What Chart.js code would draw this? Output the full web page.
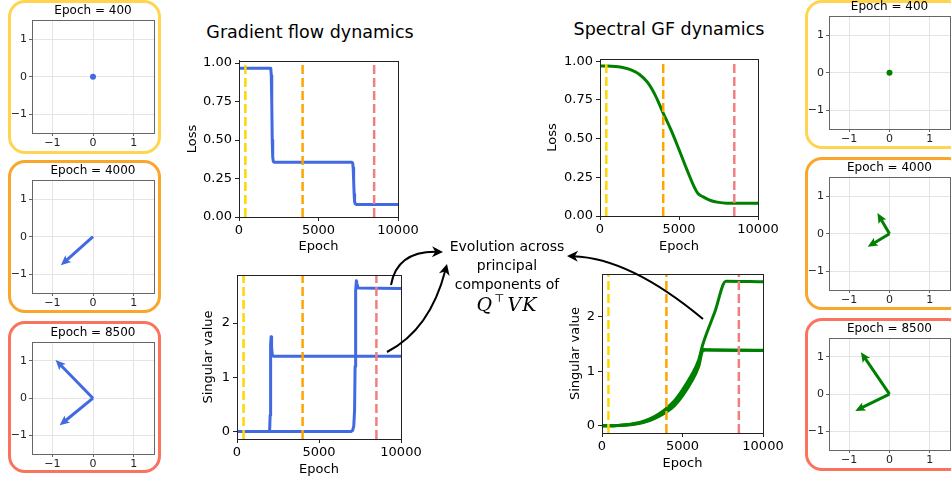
<!DOCTYPE html>
<html>
<head>
<meta charset="utf-8">
<script src="https://cdn.jsdelivr.net/npm/chart.js@4.4.1/dist/chart.umd.min.js"></script>
<style>
  html, body { margin: 0; padding: 0; background: #fff; overflow: hidden; }
  #fig { position: relative; width: 951px; height: 480px; overflow: hidden;
         font-family: "DejaVu Sans", sans-serif; color: #000; }
  .box { position: absolute; box-sizing: border-box; border: 3px solid; border-radius: 17px; }
  .holder { position: absolute; }
  .holder canvas { display: block; }
  .txt { position: absolute; white-space: nowrap; transform: translate(-50%, -50%); line-height: 1; }
  .math { font-family: "DejaVu Serif", serif; font-style: italic; font-size: 19px; letter-spacing: 1px; }
  .math sup { font-style: normal; font-size: 11px; vertical-align: 9px; margin: 0 2px 0 1px; }
  #overlay { position: absolute; left: 0; top: 0; z-index: 5; }
</style>
</head>
<body>
<div id="fig"></div>
<script>
// ---------- ticks ----------
const epochTicks = [0, 5000, 10000];
const epochTickLabels = ['0', '5000', '10000'];
const lossTicks = [0, 0.25, 0.5, 0.75, 1.0];
const lossTickLabels = ['0.00', '0.25', '0.50', '0.75', '1.00'];
const svTicks = [0, 1, 2];
const svTickLabels = ['0', '1', '2'];
const planeTicks = [-1, 0, 1];
const planeTickLabels = ['\u22121', '0', '1'];

// ---------- snapshot epochs ----------
const snapshotEpochs = [400, 4000, 8500];
const snapshotTitles = ['Epoch = 400', 'Epoch = 4000', 'Epoch = 8500'];

// ---------- gradient flow ----------
const gfLossEpoch = [0, 1950, 2000, 2030, 2060, 2090, 2120, 2160, 2220, 7100, 7150, 7180, 7210, 7240, 7270, 7310, 7380, 10000];
const gfLoss      = [0.967, 0.967, 0.964, 0.92, 0.75, 0.5, 0.39, 0.36, 0.355, 0.355, 0.35, 0.32, 0.24, 0.15, 0.1, 0.086, 0.082, 0.082];

const gfSvAEpoch = [0, 1950, 1990, 2020, 2040, 2060, 2080, 2110, 2150, 2200, 10000];
const gfSvA      = [0, 0, 0.02, 0.3, 1.0, 1.6, 1.75, 1.55, 1.42, 1.39, 1.39];
const gfSvBEpoch = [0, 6950, 7050, 7120, 7170, 7200, 7220, 7250, 7280, 7320, 7380, 10000];
const gfSvB      = [0, 0, 0.02, 0.1, 0.4, 1.2, 2.0, 2.6, 2.78, 2.72, 2.65, 2.64];

// ---------- spectral gradient flow ----------
const sgfLossEpoch = [0, 500, 1000, 1500, 2000, 2500, 3000, 3500, 4000, 4500, 5000, 5500, 6000, 6200, 6500, 7000, 7500, 8000, 10000];
const sgfLoss      = [0.97, 0.97, 0.966, 0.958, 0.943, 0.915, 0.865, 0.78, 0.665, 0.555, 0.43, 0.30, 0.18, 0.145, 0.125, 0.1, 0.088, 0.083, 0.083];

const sgfSvAEpoch = [0, 500, 1000, 1500, 2000, 2500, 3000, 3500, 4000, 4500, 5000, 5500, 6000, 6250, 6450, 10000];
const sgfSvA      = [0, 0, 0.004, 0.012, 0.028, 0.055, 0.1, 0.165, 0.25, 0.37, 0.55, 0.78, 1.08, 1.37, 1.39, 1.38];
const sgfSvCEpoch = [0, 500, 1000, 1500, 2000, 2500, 3000, 3500, 4000, 4500, 5000, 5500, 6000, 6250, 6450, 10000];
const sgfSvC      = [0, 0, 0.005, 0.015, 0.034, 0.065, 0.115, 0.19, 0.285, 0.415, 0.605, 0.84, 1.14, 1.40, 1.395, 1.385];
const sgfSvBEpoch = [0, 500, 1000, 1500, 2000, 2500, 3000, 3500, 4000, 4500, 5000, 5500, 6000, 6250, 7000, 7700, 10000];
const sgfSvB      = [0, 0, 0.006, 0.018, 0.04, 0.075, 0.13, 0.21, 0.32, 0.46, 0.66, 0.9, 1.2, 1.48, 2.08, 2.65, 2.64];

// ---------- principal components (u, v) at each snapshot ----------
const gfVec400   = [[0, 0]];
const gfVec4000  = [[-0.79, -0.76]];
const gfVec8500  = [[-0.92, 1.03], [-0.82, -0.73]];
const sgfVec400  = [[0, 0]];
const sgfVec4000 = [[-0.30, 0.55], [-0.54, -0.35]];
const sgfVec8500 = [[-0.71, 1.13], [-0.85, -0.45]];

// ---------- styling ----------
const GF_COLOR = '#4169E1';
const SGF_COLOR = '#008000';
const markerColors = ['#FFD700', '#FFA500', '#F08080'];
const boxColors = ['#FFD54F', '#F9A62A', '#FA735C'];
const FONT = '"DejaVu Sans", sans-serif';

Chart.defaults.font.family = FONT;
Chart.defaults.color = '#000';

const fig = document.getElementById('fig');

function makeCanvas(cv) {
  const holder = document.createElement('div');
  holder.className = 'holder';
  Object.assign(holder.style, { left: cv.l + 'px', top: cv.t + 'px', width: cv.w + 'px', height: cv.h + 'px' });
  const c = document.createElement('canvas');
  c.width = cv.w; c.height = cv.h;
  c.style.width = cv.w + 'px'; c.style.height = cv.h + 'px';
  holder.appendChild(c);
  fig.appendChild(holder);
  return c;
}

function addText(html, x, y, size, cls) {
  const d = document.createElement('div');
  d.className = 'txt' + (cls ? ' ' + cls : '');
  d.style.left = x + 'px'; d.style.top = y + 'px';
  if (size) d.style.fontSize = size + 'px';
  d.innerHTML = html;
  fig.appendChild(d);
}

function addBox(l, t, w, h, color) {
  const b = document.createElement('div');
  b.className = 'box';
  Object.assign(b.style, { left: l + 'px', top: t + 'px', width: w + 'px', height: h + 'px', borderColor: color });
  fig.appendChild(b);
}

// full rectangular frame round the plotting area
const framePlugin = {
  id: 'frame',
  afterDatasetsDraw(chart, args, opts) {
    const { ctx, chartArea: a } = chart;
    ctx.save();
    ctx.strokeStyle = opts.color || '#000';
    ctx.lineWidth = 1;
    ctx.strokeRect(Math.round(a.left) + 0.5, Math.round(a.top) + 0.5,
                   Math.round(a.right) - Math.round(a.left), Math.round(a.bottom) - Math.round(a.top));
    ctx.restore();
  }
};

// arrows from the origin to each (u, v), placed through the chart scales
const quiverPlugin = {
  id: 'quiver',
  afterDatasetsDraw(chart, args, opts) {
    const { ctx, scales: { x, y } } = chart;
    ctx.save();
    ctx.fillStyle = opts.color;
    (opts.vectors || []).forEach(([u, v]) => {
      const x0 = x.getPixelForValue(0), y0 = y.getPixelForValue(0);
      const x1 = x.getPixelForValue(u), y1 = y.getPixelForValue(v);
      const dx = x1 - x0, dy = y1 - y0, L = Math.hypot(dx, dy);
      if (L < 1) {
        ctx.beginPath(); ctx.arc(x0, y0, 3, 0, Math.PI * 2); ctx.fill();
        return;
      }
      const ux = dx / L, uy = dy / L, nx = -uy, ny = ux;
      const sw = 1.5, hw = 4.5, hl = 10, ha = 8.5;
      const bx = x1 - ux * ha, by = y1 - uy * ha;
      const hx = x1 - ux * hl, hy = y1 - uy * hl;
      ctx.beginPath();
      ctx.moveTo(x0 + nx * sw, y0 + ny * sw);
      ctx.lineTo(bx + nx * sw, by + ny * sw);
      ctx.lineTo(hx + nx * hw, hy + ny * hw);
      ctx.lineTo(x1, y1);
      ctx.lineTo(hx - nx * hw, hy - ny * hw);
      ctx.lineTo(bx - nx * sw, by - ny * sw);
      ctx.lineTo(x0 - nx * sw, y0 - ny * sw);
      ctx.closePath();
      ctx.fill();
    });
    ctx.restore();
  }
};

function series(xs, ys, color, smooth) {
  return { data: xs.map((x, i) => ({ x, y: ys[i] })), borderColor: color, borderWidth: 3,
           pointRadius: 0, fill: false, tension: smooth ? 0.4 : 0,
           cubicInterpolationMode: smooth ? 'monotone' : 'default',
           borderJoinStyle: 'round', borderCapStyle: 'butt' };
}

function markerLines(yMin, yMax) {
  return snapshotEpochs.map((e, i) => ({
    data: [{ x: e, y: yMin }, { x: e, y: yMax }], borderColor: markerColors[i], borderWidth: 2.5,
    borderDash: [9, 4], pointRadius: 0, fill: false
  }));
}

// line plot versus epoch
function epochChart(cv, pa, lines, yMin, yMax, yTicks, yLabels, yTitle, yTitlePos) {
  const c = makeCanvas(cv);
  const lh = 13 * 1.2;
  return new Chart(c, {
    type: 'line',
    data: { datasets: markerLines(yMin, yMax).concat(lines) },
    options: {
      responsive: false, animation: false, devicePixelRatio: 1, events: [],
      layout: { padding: { left: 0, top: pa.y0 - cv.t, right: cv.l + cv.w - pa.x1, bottom: 0 } },
      plugins: { legend: { display: false }, tooltip: { enabled: false }, frame: { color: '#222' } },
      scales: {
        x: {
          type: 'linear', min: 0, max: 10000,
          afterFit(s) { s.height = cv.t + cv.h - pa.y1; },
          afterBuildTicks(s) { s.ticks = epochTicks.map(v => ({ value: v })); },
          ticks: { autoSkip: false, maxRotation: 0, padding: 2, font: { size: 13 },
                   callback: (v, i) => epochTickLabels[i] },
          grid: { drawOnChartArea: false, tickLength: 4, tickColor: '#222' },
          border: { color: '#222' },
          title: { display: true, text: 'Epoch', font: { size: 13 }, padding: 0 }
        },
        y: {
          type: 'linear', min: yMin, max: yMax,
          afterFit(s) { s.width = pa.x0 - cv.l; },
          afterBuildTicks(s) { s.ticks = yTicks.map(v => ({ value: v })); },
          ticks: { autoSkip: false, padding: 3, font: { size: 13 }, callback: (v, i) => yLabels[i] },
          grid: { drawOnChartArea: false, tickLength: 4, tickColor: '#222' },
          border: { color: '#222' },
          title: { display: true, text: yTitle, font: { size: 13 },
                   padding: { top: yTitlePos - cv.l - lh / 2, bottom: 0 } }
        }
      }
    },
    plugins: [framePlugin]
  });
}

// principal-component plane with arrows
function planeChart(pa, vectors, color, title) {
  const b = 2, th = 12 * 1.2;
  const cv = { l: pa.x0 - 24, t: pa.y0 - th - b - 1, w: pa.x1 - pa.x0 + 28, h: pa.y1 - pa.y0 + th + b + 1 + 20 };
  const c = makeCanvas(cv);
  return new Chart(c, {
    type: 'scatter',
    data: { datasets: [{ data: [], pointRadius: 0 }] },
    options: {
      responsive: false, animation: false, devicePixelRatio: 1, events: [],
      layout: { padding: { left: 0, top: 1, right: cv.l + cv.w - pa.x1, bottom: 0 } },
      plugins: {
        legend: { display: false }, tooltip: { enabled: false },
        title: { display: true, fullSize: false, text: title, font: { size: 12, weight: 'normal' }, color: '#000',
                 padding: { top: 0, bottom: b } },
        quiver: { vectors, color },
        frame: { color: '#666' }
      },
      scales: {
        x: {
          type: 'linear', min: -1.5, max: 1.5,
          afterFit(s) { s.height = 20; },
          afterBuildTicks(s) { s.ticks = planeTicks.map(v => ({ value: v })); },
          ticks: { autoSkip: false, maxRotation: 0, padding: 1, font: { size: 11 }, color: '#222',
                   callback: (v, i) => planeTickLabels[i] },
          grid: { color: '#e4e4e4', tickLength: 3, tickColor: '#666' },
          border: { color: '#666' }
        },
        y: {
          type: 'linear', min: -1.5, max: 1.5,
          afterFit(s) { s.width = 24; },
          afterBuildTicks(s) { s.ticks = planeTicks.map(v => ({ value: v })); },
          ticks: { autoSkip: false, padding: 2, font: { size: 11 }, color: '#222',
                   callback: (v, i) => planeTickLabels[i] },
          grid: { color: '#e4e4e4', tickLength: 3, tickColor: '#666' },
          border: { color: '#666' }
        }
      }
    },
    plugins: [quiverPlugin, framePlugin]
  });
}

// ---------- snapshot frames ----------
addBox(8, 0, 153, 154, boxColors[0]);
addBox(8, 160, 153, 153, boxColors[1]);
addBox(8, 321, 153, 152, boxColors[2]);
addBox(805, 0, 160, 149, boxColors[0]);
addBox(805, 157, 160, 153, boxColors[1]);
addBox(805, 318, 160, 153, boxColors[2]);

// ---------- left column: gradient flow components ----------
planeChart({ x0: 32, y0: 20, x1: 154, y1: 133 }, gfVec400, GF_COLOR, snapshotTitles[0]);
planeChart({ x0: 32, y0: 180, x1: 154, y1: 293 }, gfVec4000, GF_COLOR, snapshotTitles[1]);
planeChart({ x0: 32, y0: 342, x1: 154, y1: 454 }, gfVec8500, GF_COLOR, snapshotTitles[2]);

// ---------- right column: spectral GF components ----------
planeChart({ x0: 829, y0: 16, x1: 950, y1: 129 }, sgfVec400, SGF_COLOR, snapshotTitles[0]);
planeChart({ x0: 829, y0: 177, x1: 950, y1: 290 }, sgfVec4000, SGF_COLOR, snapshotTitles[1]);
planeChart({ x0: 829, y0: 338, x1: 950, y1: 450 }, sgfVec8500, SGF_COLOR, snapshotTitles[2]);

// ---------- gradient flow dynamics ----------
epochChart({ l: 180, t: 50, w: 242, h: 204 }, { x0: 239, y0: 60, x1: 398, y1: 217 },
  [series(gfLossEpoch, gfLoss, GF_COLOR)], 0, 1.015, lossTicks, lossTickLabels, 'Loss', 193);
epochChart({ l: 180, t: 262, w: 245, h: 215 }, { x0: 237, y0: 275, x1: 401, y1: 439 },
  [series(gfSvAEpoch, gfSvA, GF_COLOR), series(gfSvBEpoch, gfSvB, GF_COLOR)],
  -0.1375, 2.8875, svTicks, svTickLabels, 'Singular value', 209);

// ---------- spectral GF dynamics ----------
epochChart({ l: 540, t: 48, w: 242, h: 206 }, { x0: 600, y0: 59, x1: 758, y1: 216 },
  [series(sgfLossEpoch, sgfLoss, SGF_COLOR, true)], 0, 1.015, lossTicks, lossTickLabels, 'Loss', 553);
epochChart({ l: 560, t: 262, w: 227, h: 209 }, { x0: 602, y0: 274, x1: 763, y1: 433 },
  [series(sgfSvAEpoch, sgfSvA, SGF_COLOR, true), series(sgfSvCEpoch, sgfSvC, SGF_COLOR, true),
   series(sgfSvBEpoch, sgfSvB, SGF_COLOR, true)],
  -0.1325, 2.7825, svTicks, svTickLabels, 'Singular value', 576);

// ---------- headings and caption ----------
addText('Gradient flow dynamics', 310, 33, 17.5);
addText('Spectral GF dynamics', 669, 30, 17.5);
addText('Evolution across', 507, 246, 14);
addText('principal', 507, 265, 14);
addText('components of', 507, 284, 14);
addText('Q<sup>\u22A4</sup>VK', 507, 303, null, 'math');

// ---------- curved pointers towards the caption ----------
const ov = document.createElement('canvas');
ov.id = 'overlay'; ov.width = 951; ov.height = 480;
fig.appendChild(ov);
const g = ov.getContext('2d');

function curvedArrow(p0, c, p1) {
  g.save();
  g.strokeStyle = '#000'; g.fillStyle = '#000'; g.lineWidth = 2;
  const ang = Math.atan2(p1[1] - c[1], p1[0] - c[0]);
  const hl = 11, hw = 5.5;
  const ex = p1[0] - Math.cos(ang) * 6, ey = p1[1] - Math.sin(ang) * 6;
  g.beginPath(); g.moveTo(p0[0], p0[1]); g.quadraticCurveTo(c[0], c[1], ex, ey); g.stroke();
  const bx = p1[0] - Math.cos(ang) * hl, by = p1[1] - Math.sin(ang) * hl;
  const nx = -Math.sin(ang), ny = Math.cos(ang);
  const mx = p1[0] - Math.cos(ang) * hl * 0.7, my = p1[1] - Math.sin(ang) * hl * 0.7;
  g.beginPath();
  g.moveTo(p1[0], p1[1]);
  g.lineTo(bx + nx * hw, by + ny * hw);
  g.lineTo(mx, my);
  g.lineTo(bx - nx * hw, by - ny * hw);
  g.closePath(); g.fill();
  g.restore();
}
curvedArrow([391, 285], [397, 251], [443, 252]);
curvedArrow([387, 352], [430, 330], [447, 264]);
curvedArrow([703, 319], [630, 258], [567, 256]);
</script>
</body>
</html>
